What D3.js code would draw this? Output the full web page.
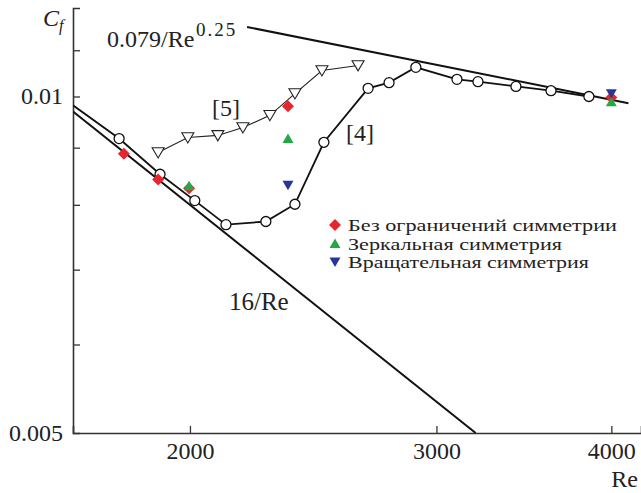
<!DOCTYPE html>
<html><head><meta charset="utf-8">
<script src="https://cdn.jsdelivr.net/npm/d3@7"></script>
<style>body{margin:0;background:#fff}svg{display:block}text{font-family:"Liberation Serif","Times New Roman",serif;fill:#222}</style>
</head><body>
<svg id="c" width="641" height="493"></svg>
<script>
// ---- data ----
const ref4Re = [1650, 1780, 1904, 2016, 2122, 2266, 2377, 2493, 2681, 2775, 2900, 3103, 3212, 3419, 3622, 3855];
const ref4Cf = [0.00982, 0.00917, 0.00852, 0.00807, 0.00768, 0.00773, 0.00801, 0.00910, 0.01017, 0.01029, 0.01062, 0.01036, 0.01031, 0.01021, 0.01012, 0.01000];
const ref5Re = [1898, 1993, 2094, 2182, 2281, 2377, 2485, 2637];
const ref5Cf = [0.00891, 0.00919, 0.00923, 0.00938, 0.00962, 0.01006, 0.01055, 0.01066];
const noSymRe = [1794, 1898, 1997, 2350, 4000];
const noSymCf = [0.00889, 0.00843, 0.00828, 0.00980, 0.00998];
const mirrorRe = [1997, 2350, 4000];
const mirrorCf = [0.00832, 0.00917, 0.00989];
const rotRe = [2350, 4000];
const rotCf = [0.00833, 0.01006];
const laminarRe = [1650, 3200];
const laminarCf = [0.009697, 0.005];
const turbRe = [2197, 4114];
const turbCf = [0.01154, 0.009864];
const xTicks = [2000, 3000, 4000];
const yTicks = [0.005, 0.006, 0.007, 0.008, 0.009, 0.01, 0.011];
const yLabeled = [0.005, 0.01];
const legendLabels = ["Без ограничений симметрии", "Зеркальная симметрия", "Вращательная симметрия"];
const legendColors = ["#e8242c", "#22a845", "#25389a"];
const legendWidths = [269, 214, 241];

const svg = d3.select("#c");
const x = d3.scaleLog().domain([1650, 4200]).range([73, 641]);
const y = d3.scaleLog().domain([0.005, 0.012]).range([433, 8]);
const ax = "#333";

// axes
const xAxis = d3.axisBottom(x).tickValues(xTicks).tickSize(-7).tickFormat(d3.format("d"));
const gx = svg.append("g").attr("transform", "translate(0,433)").call(xAxis);
gx.select(".domain").attr("stroke", ax).attr("stroke-width", 1.6);
gx.selectAll(".tick line").attr("stroke", ax).attr("stroke-width", 1.3);
gx.selectAll(".tick text").attr("font-size", 24).attr("font-family", "Liberation Serif").attr("fill", "#222")
  .attr("y", 26).attr("dy", null);

const yAxis = d3.axisLeft(y).tickValues(yTicks).tickSize(-7)
  .tickFormat(d => yLabeled.includes(d) ? (d === 0.01 ? "0.01" : "0.005") : "");
const gy = svg.append("g").attr("transform", "translate(73,0)").call(yAxis);
gy.select(".domain").attr("stroke", ax).attr("stroke-width", 1.6);
gy.selectAll(".tick line").attr("stroke", ax).attr("stroke-width", 1.3);
gy.selectAll(".tick").filter(d => d === 0.005).select("line").remove();
gy.selectAll(".tick text").attr("font-size", 24).attr("font-family", "Liberation Serif").attr("fill", "#222")
  .attr("x", -10).attr("dy", "0.3em");

// clip
svg.append("clipPath").attr("id", "clip").append("rect").attr("x", 73).attr("y", 0).attr("width", 570).attr("height", 433);
const plot = svg.append("g").attr("clip-path", "url(#clip)");

const line = d3.line().x(d => x(d[0])).y(d => y(d[1]));
const zip = (a, b) => a.map((v, i) => [v, b[i]]);

plot.append("path").attr("d", line(zip(laminarRe, laminarCf))).attr("fill", "none").attr("stroke", "#111").attr("stroke-width", 2);
plot.append("path").attr("d", line(zip(turbRe, turbCf))).attr("fill", "none").attr("stroke", "#111").attr("stroke-width", 2);
plot.append("path").attr("d", line(zip(ref5Re, ref5Cf))).attr("fill", "none").attr("stroke", "#222").attr("stroke-width", 1.1);
plot.append("path").attr("d", line(zip(ref4Re, ref4Cf))).attr("fill", "none").attr("stroke", "#111").attr("stroke-width", 1.8);

const triDown = s => `M${-s},${-s*0.8}L${s},${-s*0.8}L0,${s*0.9}Z`;
const triUp = s => `M${-s},${s*0.8}L${s},${s*0.8}L0,${-s*0.9}Z`;
const diamond = s => `M0,${-s}L${s},0L0,${s}L${-s},0Z`;

plot.selectAll(".t5").data(zip(ref5Re, ref5Cf)).join("path")
  .attr("transform", d => `translate(${x(d[0])},${y(d[1])})`)
  .attr("d", triDown(6)).attr("fill", "#fff").attr("stroke", "#222").attr("stroke-width", 1.1);

plot.selectAll(".c4").data(zip(ref4Re, ref4Cf).slice(1)).join("circle")
  .attr("cx", d => x(d[0])).attr("cy", d => y(d[1])).attr("r", 5)
  .attr("fill", "#fff").attr("stroke", "#111").attr("stroke-width", 1.3);

plot.selectAll(".ns").data(zip(noSymRe, noSymCf)).join("path")
  .attr("transform", d => `translate(${x(d[0])},${y(d[1])})`)
  .attr("d", diamond(6)).attr("fill", legendColors[0]);
plot.selectAll(".mr").data(zip(mirrorRe, mirrorCf)).join("path")
  .attr("transform", d => `translate(${x(d[0])},${y(d[1])})`)
  .attr("d", triUp(5.5)).attr("fill", legendColors[1]);
plot.selectAll(".rt").data(zip(rotRe, rotCf)).join("path")
  .attr("transform", d => `translate(${x(d[0])},${y(d[1])})`)
  .attr("d", triDown(5.5)).attr("fill", legendColors[2]);

// legend
const lg = svg.append("g").attr("transform", "translate(335,225)");
const shapes = [diamond(6), triUp(5.5), triDown(5.5)];
legendLabels.forEach((t, i) => {
  const row = lg.append("g").attr("transform", `translate(0,${i * 18.5})`);
  row.append("path").attr("d", shapes[i]).attr("fill", legendColors[i]);
  row.append("text").attr("x", 13).attr("y", 6).attr("font-size", 17.5)
    .attr("textLength", legendWidths[i]).attr("lengthAdjust", "spacingAndGlyphs").text(t);
});

// annotations
svg.append("text").attr("x", 212).attr("y", 116).attr("font-size", 24).text("[5]");
svg.append("text").attr("x", 346).attr("y", 141).attr("font-size", 24).text("[4]");
svg.append("text").attr("x", 229).attr("y", 310).attr("font-size", 25).text("16/Re");
svg.append("text").attr("x", 107).attr("y", 47).attr("font-size", 24).text("0.079/Re");
svg.append("text").attr("x", 196).attr("y", 36).attr("font-size", 19).attr("letter-spacing", 2).text("0.25");
const cf = svg.append("text").attr("x", 43).attr("y", 26).attr("font-size", 24).attr("font-style", "italic");
cf.append("tspan").text("C");
cf.append("tspan").attr("font-size", 16).attr("dy", 5).text("f");
svg.append("text").attr("x", 638).attr("y", 487).attr("font-size", 24).attr("text-anchor", "end").text("Re");
</script>
</body></html>
